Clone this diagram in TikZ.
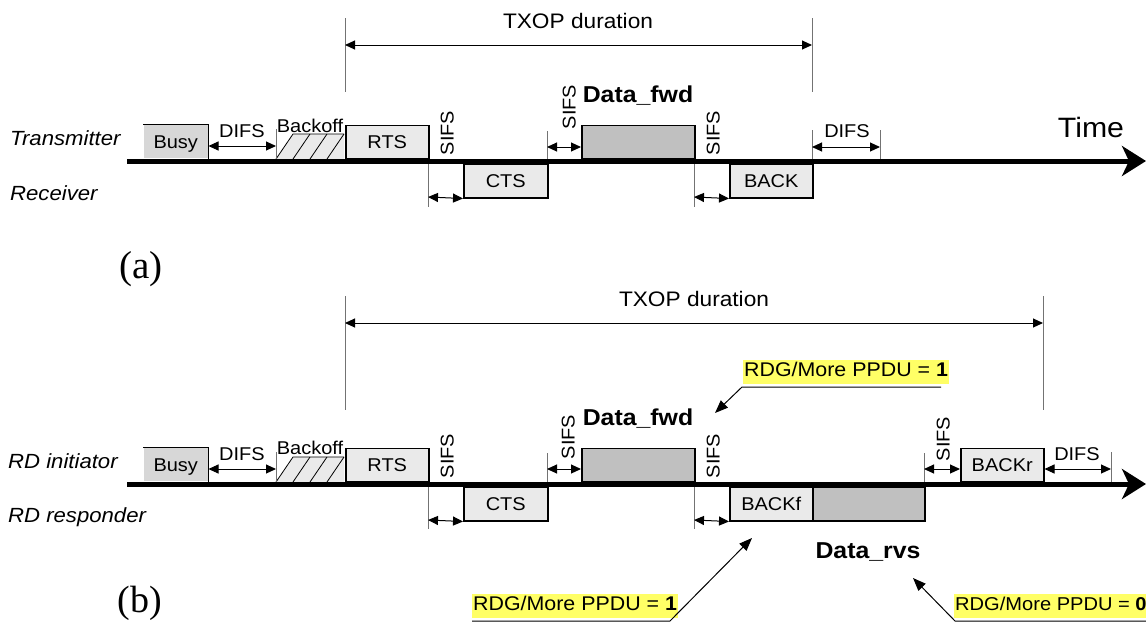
\documentclass[tikz,border=0pt]{standalone}
\usepackage{fontspec}
\setmainfont[FakeStretch=1.08]{Liberation Sans}
\newfontfamily\seriffont{Liberation Serif}
\usetikzlibrary{arrows.meta}
\definecolor{busyfill}{RGB}{215,215,215}
\definecolor{pktfill}{RGB}{234,234,234}
\definecolor{datafill}{RGB}{192,192,192}
\definecolor{hlfill}{RGB}{255,255,102}
\definecolor{tickgray}{RGB}{115,115,115}
\newcommand\fnorm{\fontsize{18.5}{22}\selectfont}
\newcommand\fnote{\fontsize{19.8}{23}\selectfont}
\newcommand\flab{\fontsize{20.5}{24}\selectfont\itshape}
\newcommand\fbig{\fontsize{23}{27}\selectfont\bfseries}
\newcommand\ftx{\fontsize{21}{24}\selectfont}
\begin{document}
\begin{tikzpicture}[x=1pt,y=-1pt,
  pktup/.style={draw, line width=1.5pt, fill=pktfill, font=\fnorm, inner sep=0pt,
     text height=13.2pt, text depth=0pt, minimum height=33pt, anchor=south west},
  pktdn/.style={pktup, minimum height=34pt, anchor=north west},
  busybox/.style={pktup, draw=none, fill=busyfill},
  datafillsty/.style={fill=datafill},
  edge/.style={line width=1.5pt},
  tick/.style={draw=tickgray, line width=1pt},
  dur/.style={line width=1pt, {Triangle[length=10pt,width=9pt]}-{Triangle[length=10pt,width=9pt]}},
  timeline/.style={line width=5pt, -{Stealth[length=24pt,width=30pt,inset=7pt]}},
  txt/.style={inner sep=0pt, font=\fnorm, anchor=base},
  lab/.style={inner sep=0pt, font=\flab, anchor=base west},
  sifs/.style={inner sep=0pt, font=\fnorm, rotate=90, text height=13.2pt, text depth=0pt},
  note/.style={fill=hlfill, inner xsep=1pt, inner ysep=1pt, text height=16pt, text depth=6pt,
     font=\fnote, anchor=south west},
  leader/.style={line width=1pt, -{Triangle[length=13pt,width=10pt]}},
  hatch/.style={line width=0.8pt}
]
\useasboundingbox (0,0) rectangle (1146,622);

% ================= (a) =================
% TXOP
\draw[tick] (345,18) -- (345,92);
\draw[tick] (812,18) -- (812,92);
\coordinate (txA0) at (345,45); \coordinate (txA1) at (812,45);
\draw[dur] (txA0) -- (txA1);
\node[txt, font=\ftx] (txopA) at (578,28) {TXOP duration};

% labels
\node[lab] (trA) at (10,145) {Transmitter};
\node[lab] (rxA) at (10,200) {Receiver};

% packets
\node[busybox, minimum width=64pt] (busyA) at (143,159) {Busy};
\draw[edge] (busyA.north west) -- (busyA.north east) -- (busyA.south east);
\fill[pktfill] (276,159) -- (293,134) -- (344,134) -- (344,159) -- cycle;
\draw[hatch] (276,159) -- (293,134) -- (344,134);
\draw[hatch] (293,159) -- (310,134) (310,159) -- (327,134) (327,159) -- (344,134);
\node[pktup, minimum width=83pt] (rtsA) at (345,159) {RTS};
\node[pktup, datafillsty, minimum width=113pt] (dataA) at (581,159) {};
\node[pktdn, minimum width=84pt] (ctsA) at (463,163) {CTS};
\node[pktdn, minimum width=83pt] (backA) at (729,163) {BACK};

% DIFS 1
\draw[tick] (276,129) -- (276,159);
\draw[dur] (busyA.east |- 0,146) -- (276,146);
\node[txt] (difsA1) at (242,137) {DIFS};
\node[txt] (boA) at (310,132) {Backoff};
% SIFS after RTS
\node[sifs] (sA1) at (447,133) {SIFS};
\draw[tick] (428,163) -- (428,207);
\draw[dur] (428,197) -- (ctsA.south west);
% SIFS before data
\draw[tick] (547,131) -- (547,159);
\draw[dur] (547,147) -- (dataA.west |- 0,147);
\node[sifs] (sA2) at (569,107) {SIFS};
\node[txt, font=\fbig] (dfA) at (638,102) {Data\_fwd};
% SIFS after data
\node[sifs] (sA3) at (713,133) {SIFS};
\draw[tick] (694,163) -- (694,207);
\draw[dur] (694,197) -- (backA.south west);
% DIFS 2
\draw[tick] (812,130) -- (812,159);
\draw[tick] (880,130) -- (880,159);
\draw[dur] (812,147) -- (880,147);
\node[txt] (difsA2) at (847,137) {DIFS};

% timeline
\coordinate (tlA0) at (127,161); \coordinate (tlA1) at (1146,161);
\draw[timeline] (tlA0) -- (tlA1);
\node[txt, font=\fontsize{28}{32}\selectfont] (timeA) at (1091,137) {Time};

\node[inner sep=0pt, anchor=base, font=\seriffont\fontsize{39}{44}\selectfont] (capA) at (141,278) {(a)};

% ================= (b) =================
\draw[tick] (345,296) -- (345,410);
\draw[tick] (1043,296) -- (1043,410);
\coordinate (txB0) at (345,323); \coordinate (txB1) at (1043,323);
\draw[dur] (txB0) -- (txB1);
\node[txt, font=\ftx] (txopB) at (694,306) {TXOP duration};

\node[lab] (initB) at (8,468) {RD initiator};
\node[lab] (respB) at (8,522) {RD responder};

\node[busybox, minimum width=64pt] (busyB) at (143,482) {Busy};
\draw[edge] (busyB.north west) -- (busyB.north east) -- (busyB.south east);
\fill[pktfill] (276,482) -- (293,457) -- (344,457) -- (344,482) -- cycle;
\draw[hatch] (276,482) -- (293,457) -- (344,457);
\draw[hatch] (293,482) -- (310,457) (310,482) -- (327,457) (327,482) -- (344,457);
\node[pktup, minimum width=83pt] (rtsB) at (345,482) {RTS};
\node[pktup, datafillsty, minimum width=113pt] (dataB) at (581,482) {};
\node[pktup, minimum width=83pt] (backrB) at (960,482) {BACKr};
\node[pktdn, minimum width=84pt] (ctsB) at (463,486) {CTS};
\node[pktdn, minimum width=83pt] (backfB) at (729,486) {BACKf};
\node[pktdn, datafillsty, minimum width=112pt] (rvsB) at (812,486) {};

\draw[tick] (276,452) -- (276,482);
\draw[dur] (busyB.east |- 0,469) -- (276,469);
\node[txt] (difsB1) at (242,460) {DIFS};
\node[txt] (boB) at (310,454) {Backoff};
\node[sifs] (sB1) at (447,456) {SIFS};
\draw[tick] (428,486) -- (428,529);
\draw[dur] (428,520) -- (ctsB.south west);
\draw[tick] (547,453) -- (547,482);
\draw[dur] (547,469) -- (dataB.west |- 0,469);
\node[sifs] (sB2) at (568,437) {SIFS};
\node[txt, font=\fbig] (dfB) at (638,425) {Data\_fwd};
\node[sifs] (sB3) at (713,456) {SIFS};
\draw[tick] (694,486) -- (694,529);
\draw[dur] (694,520) -- (backfB.south west);
\draw[tick] (924,453) -- (924,482);
\draw[dur] (924,469) -- (backrB.west |- 0,469);
\node[sifs] (sB4) at (943,439) {SIFS};
\draw[tick] (1111,452) -- (1111,482);
\draw[dur] (backrB.east |- 0,469) -- (1111,469);
\node[txt] (difsB2) at (1077,460) {DIFS};
\node[txt, font=\fbig] (drB) at (868,558) {Data\_rvs};

\coordinate (tlB0) at (127,484); \coordinate (tlB1) at (1146,484);
\draw[timeline] (tlB0) -- (tlB1);

\node[inner sep=0pt, anchor=base, font=\seriffont\fontsize{38}{44}\selectfont] (capB) at (140,612) {(b)};

% annotations
\node[note] (noteT) at (743,384) {RDG/More PPDU = \textbf{1}};
\coordinate (uT1) at (941,387); \coordinate (uT0) at (742,387); \coordinate (tipT) at (715,413);
\draw[leader] (uT1) -- (uT0) -- (tipT);

\node[note] (noteL) at (472,618) {RDG/More PPDU = \textbf{1}};
\coordinate (uL0) at (472,621); \coordinate (uL1) at (670,621); \coordinate (tipL) at (752,538);
\draw[leader] (uL0) -- (uL1) -- (tipL);

\node[note, font=\fontsize{18.6}{22}\selectfont] (noteR) at (954,618) {RDG/More PPDU = \textbf{0}};
\coordinate (uR1) at (1146,621); \coordinate (uR0) at (955,621); \coordinate (tipR) at (913,578);
\draw[leader] (uR1) -- (uR0) -- (tipR);
\end{tikzpicture}
\end{document}
